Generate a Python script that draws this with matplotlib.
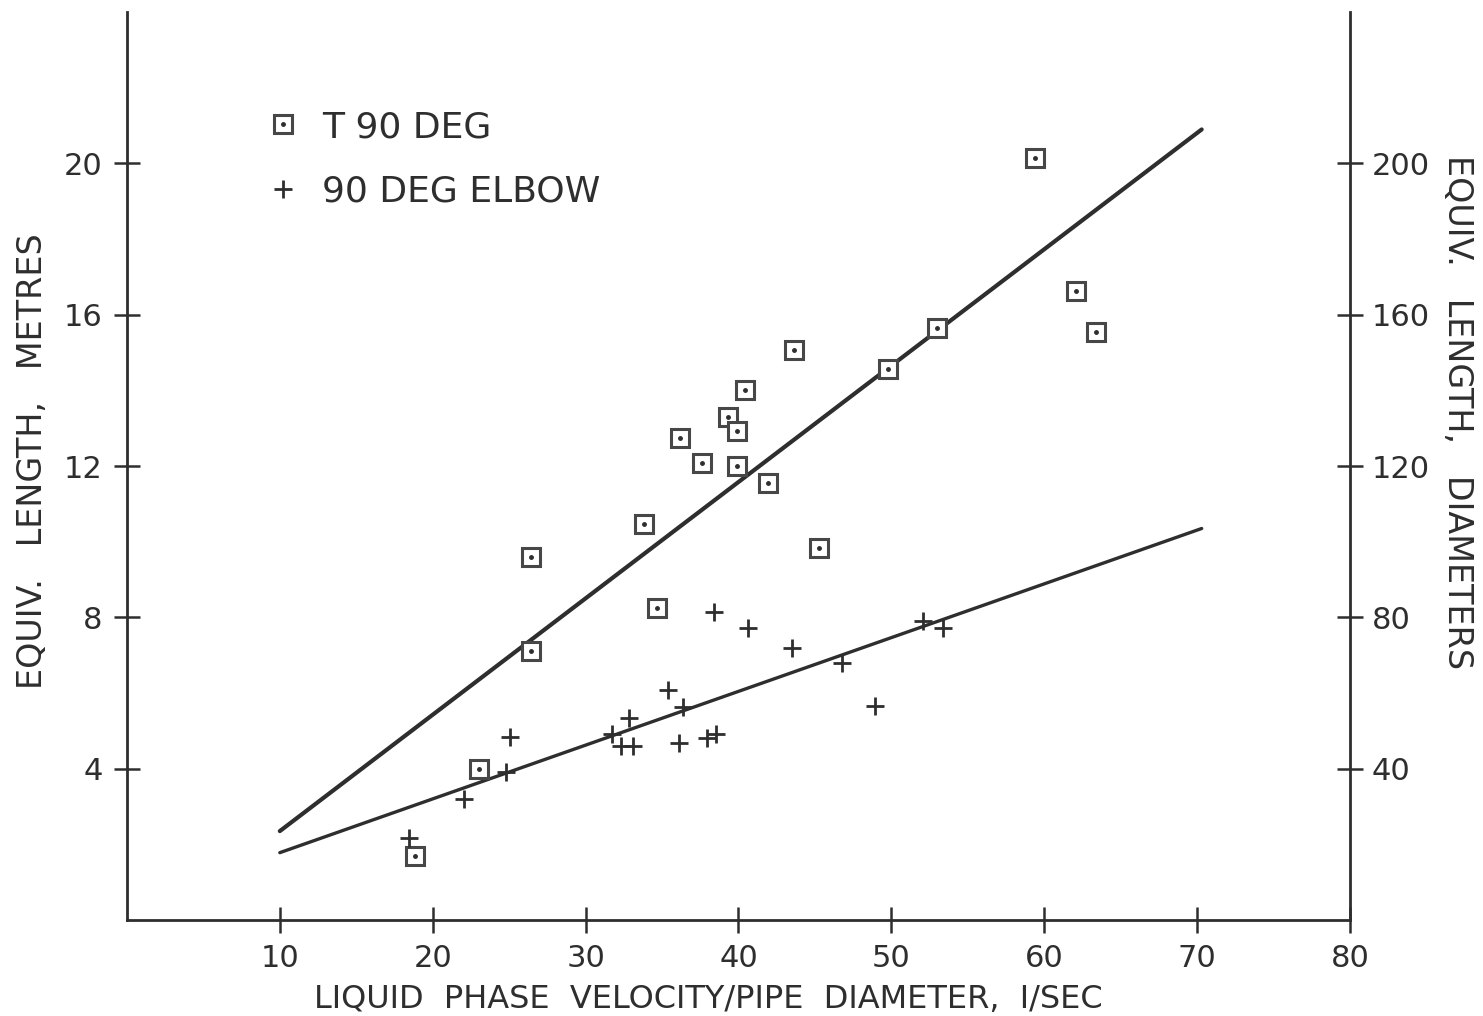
import numpy as np
import matplotlib
matplotlib.use('Agg')
import matplotlib.pyplot as plt

# T 90 deg tee: liquid velocity / pipe diameter (1/s) vs equivalent length (m)
tee_x = [18.85, 23.0, 26.4, 26.4, 33.8, 34.7, 36.2, 37.6, 39.3, 39.9, 39.9,
         40.4, 41.95, 43.65, 45.3, 49.8, 53.0, 59.4, 62.1, 63.4]
tee_y = [1.69, 4.0, 7.12, 9.59, 10.46, 8.25, 12.73, 12.07, 13.31, 12.94, 11.99,
         14.02, 11.54, 15.08, 9.83, 14.58, 15.66, 20.14, 16.63, 15.55]

# 90 deg elbow
elbow_x = [18.46, 22.05, 24.8, 25.07, 31.7, 32.85, 32.3, 33.1, 35.4, 36.4,
           36.1, 37.96, 38.5, 38.4, 40.6, 43.5, 46.8, 48.9, 52.1, 53.4]
elbow_y = [2.16, 3.19, 3.9, 4.85, 4.93, 5.35, 4.61, 4.61, 6.09, 5.64,
           4.69, 4.82, 4.93, 8.14, 7.72, 7.2, 6.8, 5.67, 7.91, 7.72]

# fitted lines
fit_x = [10, 70.3]
tee_fit = [2.35, 20.9]
elbow_fit = [1.78, 10.35]

x_ticks = [10, 20, 30, 40, 50, 60, 70, 80]
x_labels = ['10', '20', '30', '40', '50', '60', '70', '80']
y_ticks = [4, 8, 12, 16, 20]
d_ticks = [40, 80, 120, 160, 200]

ink = '#2e2e2e'
mk = '#474747'

fig = plt.figure(figsize=(14.83, 10.16), dpi=100)
ax = fig.add_axes([0.0856, 0.0945, 0.8247, 0.8935])

ax.plot(fit_x, tee_fit, color=ink, lw=3.0, solid_capstyle='round')
ax.plot(fit_x, elbow_fit, color=ink, lw=2.4, solid_capstyle='round')

sq, = ax.plot(tee_x, tee_y, ls='none', marker='s', ms=13.5, mfc='white',
              mec=mk, mew=2.2)
dot, = ax.plot(tee_x, tee_y, ls='none', marker='o', ms=2.5, mfc=ink, mec=ink)
plus, = ax.plot(elbow_x, elbow_y, ls='none', marker='+', ms=13, mec=ink, mew=2.0)

ax.set_xlim(0, 80)
ax.set_ylim(0, 24)
ax.set_xticks(x_ticks)
ax.set_xticklabels(x_labels)
ax.set_yticks(y_ticks)

ax.spines['top'].set_visible(False)
ax.spines['right'].set_visible(False)
for s in ['left', 'bottom']:
    ax.spines[s].set_color(ink)
    ax.spines[s].set_linewidth(2.0)
ax.tick_params(direction='inout', length=19, width=1.8, color=ink,
               labelsize=22, labelcolor=ink, pad=8)

ax2 = ax.twinx()
ax2.set_ylim(0, 240)
ax2.set_yticks(d_ticks)
for s in ['left', 'top', 'bottom']:
    ax2.spines[s].set_visible(False)
ax2.spines['right'].set_color(ink)
ax2.spines['right'].set_linewidth(2.0)
ax2.tick_params(direction='inout', length=19, width=1.8, color=ink,
                labelsize=22, labelcolor=ink, pad=6)

ax.set_xlabel('LIQUID  PHASE  VELOCITY/PIPE  DIAMETER,  I/SEC', fontsize=23,
              color=ink)
ax.xaxis.set_label_coords(0.475, -0.070)
ax.set_ylabel('EQUIV.   LENGTH,   METRES', fontsize=24, color=ink)
ax.yaxis.set_label_coords(-0.064, 0.505)
ax2.set_ylabel('EQUIV.   LENGTH,   DIAMETERS', fontsize=24, color=ink,
               rotation=-90)
ax2.yaxis.set_label_coords(1.101, 0.56)

ax.legend([(sq, dot), plus], ['T 90 DEG', '90 DEG ELBOW'], loc='upper left',
          bbox_to_anchor=(0.086, 0.928), frameon=False, fontsize=26,
          labelcolor=ink, handlelength=1.0, handletextpad=0.6, labelspacing=0.85)

fig.savefig('out.png', dpi=100)
